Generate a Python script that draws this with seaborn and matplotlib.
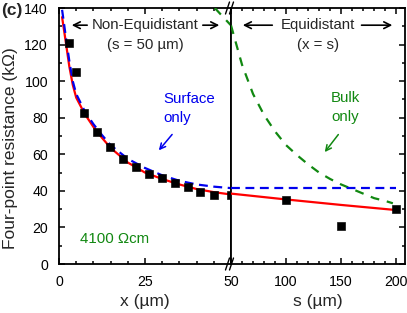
import matplotlib
matplotlib.use('Agg')
import matplotlib.pyplot as plt
from matplotlib.ticker import MultipleLocator
import numpy as np
import pandas as pd
import seaborn as sns

# measured points, non-equidistant (s = 50 um), x in um, R in kOhm
x_meas = [2.9, 4.9, 7.4, 11.1, 14.9, 18.7, 22.4, 26.3, 29.9, 33.7, 37.4, 41.1, 45.0, 50.0]
r_meas = [120.6, 105.0, 82.8, 72.2, 63.8, 57.4, 53.2, 49.2, 46.8, 44.3, 42.0, 39.2, 37.6, 37.6]
# measured points, equidistant (x = s)
s_meas = [100, 150, 200]
r_meas_eq = [35.0, 21.0, 30.2]

# fit curves
x_fit = [0.9, 2, 3, 4, 5, 7.5, 10, 12.5, 15, 20, 25, 30, 35, 40, 45, 50]
r_fit = [135, 121, 108, 98, 91, 82, 75, 69, 63.5, 55.5, 50, 46.5, 43.5, 41, 39.3, 38]
r_surf = [139, 124, 111, 100, 93, 83.5, 76.5, 70.5, 65, 57.5, 52.5, 48.5, 45.5, 43.5, 42.3, 41.5]
s_fit = [50, 100, 150, 200]
r_fit_eq = [38.5, 35.3, 32.3, 29.5]
r_surf_eq = [41.5, 41.5, 41.5, 41.5]
x_bulk = [45.3, 47.5, 50]
r_bulk = [140, 135.5, 130.5]
s_bulk = [50, 60, 70, 80, 90, 100, 110, 120, 130, 140, 150, 160, 170, 180, 190, 197]
r_bulk_eq = [130.5, 109, 93, 81.5, 72.5, 65, 59.5, 54.5, 50, 46.5, 43.5, 41, 38.5, 36, 34.5, 33.2]

sns.set_style("ticks")
plt.rcParams['font.family'] = ['Liberation Sans', 'DejaVu Sans']
plt.rcParams['font.size'] = 10

fig = plt.figure(figsize=(4.07, 3.13), dpi=100)
ax1 = fig.add_axes([59/407, 1-264/313, 172/407, 256/313])
ax2 = fig.add_axes([231/407, 1-264/313, 174/407, 256/313], sharey=ax1)

red = '#ff0000'
blue = '#0000ee'
green = '#118811'
fs = 10.8

# left panel
sns.lineplot(x=x_fit, y=r_fit, ax=ax1, color=red, lw=1.6, zorder=3)
sns.lineplot(x=x_fit, y=r_surf, ax=ax1, color=blue, lw=1.6, zorder=4)
ax1.lines[-1].set_dashes((4, 2.5))
sns.lineplot(x=x_bulk, y=r_bulk, ax=ax1, color=green, lw=1.6, zorder=3)
ax1.lines[-1].set_dashes((4, 3.5))
sns.scatterplot(x=x_meas, y=r_meas, ax=ax1, color='black', marker='s', s=30, edgecolor='black', zorder=5, clip_on=False)

# right panel
sns.lineplot(x=s_fit, y=r_fit_eq, ax=ax2, color=red, lw=1.6, zorder=3)
sns.lineplot(x=s_fit, y=r_surf_eq, ax=ax2, color=blue, lw=1.6, zorder=4)
ax2.lines[-1].set_dashes((4, 2.5))
sns.lineplot(x=s_bulk, y=r_bulk_eq, ax=ax2, color=green, lw=1.6, zorder=3)
ax2.lines[-1].set_dashes((4, 3.5))
sns.scatterplot(x=s_meas, y=r_meas_eq, ax=ax2, color='black', marker='s', s=30, edgecolor='black', zorder=5, clip_on=False)

ax1.set_xlim(0, 50)
ax1.set_ylim(0, 140)
ax2.set_xlim(50, 208)

ax1.xaxis.set_major_locator(MultipleLocator(25))
ax1.xaxis.set_minor_locator(MultipleLocator(5))
ax2.xaxis.set_major_locator(MultipleLocator(50))
ax2.xaxis.set_minor_locator(MultipleLocator(10))
ax1.yaxis.set_major_locator(MultipleLocator(20))
ax1.yaxis.set_minor_locator(MultipleLocator(10))

for ax in (ax1, ax2):
    for sp in ax.spines.values():
        sp.set_linewidth(1.3)
        sp.set_color('black')
    ax.tick_params(which='both', direction='in', top=True, width=1.1, labelsize=10.2, colors='black')
    ax.tick_params(which='major', length=4.5)
    ax.tick_params(which='minor', length=2.5)
    ax.tick_params(axis='x', pad=8)
    ax.tick_params(axis='y', pad=8)
ax1.tick_params(which='both', left=True, right=False)
ax2.tick_params(which='both', left=False, right=True, labelleft=False)
ax1.set_xticks([0, 25])
ax1.set_xticklabels(['0', '25'])

ax1.set_xlabel('x (µm)', fontsize=12.5, labelpad=3.5)
ax2.set_xlabel('s (µm)', fontsize=12.5, labelpad=3.5)
ax1.set_ylabel('')
fig.text(11/407, 1-148/313, 'Four-point resistance (kΩ)', rotation=90,
         ha='center', va='center', fontsize=12.5)

# top annotations
ap = dict(arrowstyle='->', color='black', lw=1.2, mutation_scale=12)
ax1.annotate('', xy=(2.9, 130.6), xytext=(9, 130.6), arrowprops=ap)
ax1.annotate('', xy=(47.4, 130.6), xytext=(41, 130.6), arrowprops=ap)
ax1.text(25, 130.6, 'Non-Equidistant', ha='center', va='center', fontsize=fs)
ax1.text(25, 119.5, '(s = 50 µm)', ha='center', va='center', fontsize=fs)
ax2.annotate('', xy=(58.2, 130.6), xytext=(90, 130.6), arrowprops=ap)
ax2.annotate('', xy=(199, 130.6), xytext=(166, 130.6), arrowprops=ap)
ax2.text(129, 130.6, 'Equidistant', ha='center', va='center', fontsize=fs)
ax2.text(129, 119.5, '(x = s)', ha='center', va='center', fontsize=fs)

ax1.text(30.2, 90, 'Surface', color=blue, ha='left', va='center', fontsize=fs)
ax1.text(30.2, 80, 'only', color=blue, ha='left', va='center', fontsize=fs)
ax1.annotate('', xy=(28.5, 61), xytext=(33.4, 72),
             arrowprops=dict(arrowstyle='->', color=blue, lw=1.1, mutation_scale=10))
ax2.text(141, 90.7, 'Bulk', color=green, ha='left', va='center', fontsize=fs)
ax2.text(141, 80.3, 'only', color=green, ha='left', va='center', fontsize=fs)
ax2.annotate('', xy=(133.6, 60), xytext=(149, 72),
             arrowprops=dict(arrowstyle='->', color=green, lw=1.1, mutation_scale=10))
ax1.text(6.1, 13.7, '4100 Ωcm', color=green, ha='left', va='center', fontsize=fs)

# axis break marks
for yb in (8, 264):
    for dx in (-2.5, 1.5):
        fig.add_artist(plt.Line2D([(228+dx)/407, (232+dx)/407], [1-(yb+6)/313, 1-(yb-6)/313],
                                  color='black', lw=1.0))

fig.text(0.002, 1-10/313, '(c)', fontweight='bold', fontsize=12.5, va='center', ha='left')

fig.savefig('out.png', dpi=100)
